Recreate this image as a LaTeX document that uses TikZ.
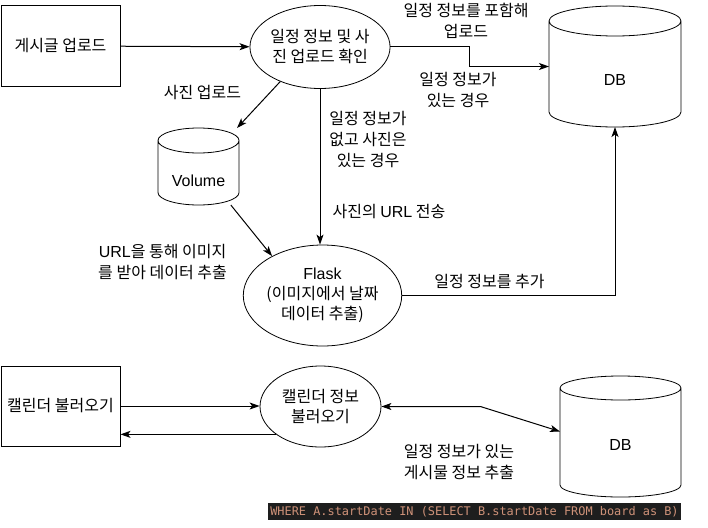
\documentclass[tikz,border=0pt]{standalone}
\usepackage{fontspec}
\setmainfont{Noto Sans CJK KR}
\newfontfamily\latfont{Liberation Sans}
\newfontfamily\codefont{DejaVu Sans Mono}
\usetikzlibrary{arrows.meta,positioning,calc,shapes.geometric}
\definecolor{codebg}{RGB}{30,30,30}
\definecolor{codefg}{RGB}{206,145,120}
\tikzset{
  box/.style={
    draw,
    line width=1pt,
    minimum width=119pt,
    minimum height=80pt,
    font=\fontsize{16}{21}\selectfont
  },
  oval/.style={
    ellipse,
    draw,
    line width=0.8pt,
    align=center,
    inner sep=0pt,
    font=\fontsize{16}{20}\selectfont
  },
  store/.style={
    rectangle,
    inner sep=0pt,
    outer sep=0pt
  },
  lbl/.style={align=center, inner sep=0pt, font=\fontsize{16}{21}\selectfont},
  arr/.style={-{Stealth[length=10pt,width=7pt,inset=2.5pt]}, line width=1pt},
  biarr/.style={{Stealth[length=10pt,width=7pt,inset=2.5pt]}-{Stealth[length=10pt,width=7pt,inset=2.5pt]}, line width=1pt}
}
% outline of a storage cylinder round a node, #2 = radius of the end caps
\newcommand{\drawstore}[2]{%
  \draw[line width=0.8pt] let \p1=($(#1.north east)-(#1.north west)$) in
    ([yshift=-#2]#1.north west) -- ([yshift=#2]#1.south west)
    arc[start angle=180, end angle=360, x radius=0.5*\x1, y radius=#2]
    -- ([yshift=-#2]#1.north east)
    ([yshift=-#2]#1.north) ellipse[x radius=0.5*\x1, y radius=#2];
}
\begin{document}
\begin{tikzpicture}[x=1pt,y=-1pt]
  \useasboundingbox (0,0) rectangle (708,527);
  % upload flow
  \node[box] (post) at (60.5,46) {게시글 업로드};
  \node[oval, minimum width=120pt, minimum height=83pt] (check) at (320,47) {일정 정보 및 사\\진 업로드 확인};
  \node[store, minimum width=132pt, minimum height=121pt] (db1) at (615,66.5) {};
  \drawstore{db1}{15pt}
  \node[lbl, font=\latfont\fontsize{16}{21}\selectfont] (db1txt) at ([yshift=-13.5pt]db1.center) {DB};
  \node[store, minimum width=81pt, minimum height=77pt] (vol) at (198.5,166.5) {};
  \drawstore{vol}{12.5pt}
  \node[lbl, font=\latfont\fontsize{16}{21}\selectfont] (voltxt) at ([yshift=-14pt]vol.center) {Volume};
  \node[oval, minimum width=125pt, minimum height=101pt] (flask) at (322.5,295.5) {{\latfont Flask}\\(이미지에서 날짜\\데이터 추출)};
  \draw[arr] (post) -- (check);
  \draw[arr] (check.east) -| ($(check.east)!.5!(db1.west)$) |- (db1.west);
  \draw[arr] (check.221) -- (vol.45);
  \draw[arr] (vol.310) -- (flask.142);
  \draw[arr] (check.south) -- (check.south |- flask.north);
  \draw[arr] (flask.east) -| (db1.south);
  \node[lbl] (l1) at (466,21) {일정 정보를 포함해\\업로드};
  \node[lbl] (l2) at (458,90.5) {일정 정보가\\있는 경우};
  \node[lbl] (l3) at (202.5,93) {사진 업로드};
  \node[lbl] (l4) at (368,139.5) {일정 정보가\\없고 사진은\\있는 경우};
  \node[lbl] (l5) at (389,211.5) {사진의 {\latfont URL} 전송};
  \node[lbl] (l6) at (162.5,262.5) {{\latfont URL}을 통해 이미지\\를 받아 데이터 추출};
  \node[lbl] (l7) at (489.5,281.5) {일정 정보를 추가};
  % calendar flow
  \node[box] (cal) at (60.5,406) {캘린더 불러오기};
  \node[oval, minimum width=121pt, minimum height=81pt] (load) at (320.5,406.5) {캘린더 정보\\불러오기};
  \node[store, minimum width=121pt, minimum height=121pt] (db2) at (620.5,436.5) {};
  \drawstore{db2}{12pt}
  \node[lbl, font=\latfont\fontsize{16}{21}\selectfont] (db2txt) at ([yshift=-8.5pt]db2.center) {DB};
  \draw[arr] (cal.east) -- (cal.east -| load.west);
  \draw[arr] (load.212) -- (load.212 -| cal.east);
  \draw[biarr] (load.east) -- ++(99,0) -- ([yshift=5pt]db2.west);
  \node[lbl] (l8) at (459,462.5) {일정 정보가 있는\\게시물 정보 추출};
  \node[fill=codebg, text=codefg, font=\codefont\fontsize{11.9}{14}\selectfont, minimum width=413pt, minimum height=17pt, inner sep=0pt] (sql) at (474.5,511.5) {WHERE A.startDate IN (SELECT B.startDate FROM board as B)};
\end{tikzpicture}
\end{document}
